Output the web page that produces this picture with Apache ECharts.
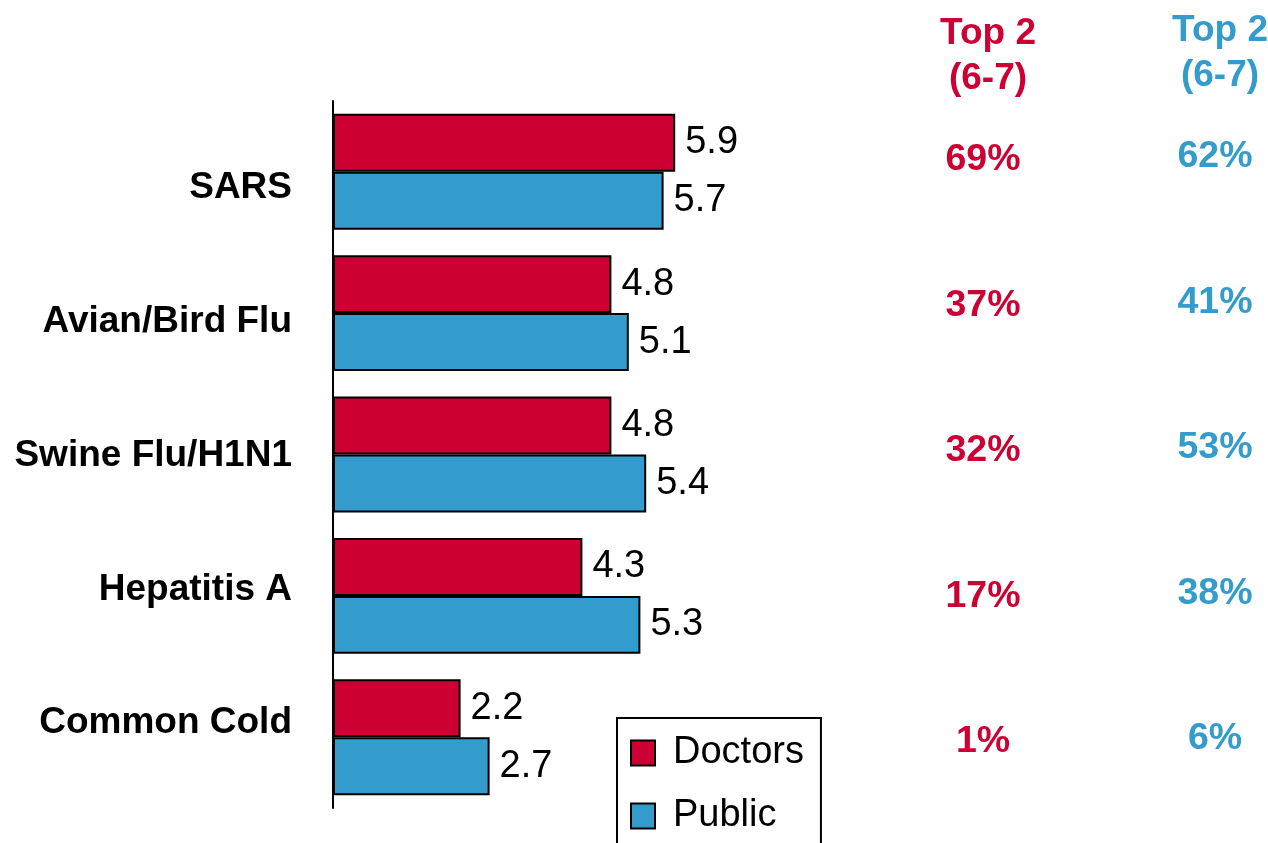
<!DOCTYPE html>
<html>
<head>
<meta charset="utf-8">
<script src="https://cdn.jsdelivr.net/npm/echarts@6/dist/echarts.min.js"></script>
<style>
html,body{margin:0;padding:0;background:#fff;}
#chart{width:1268px;height:843px;}
</style>
</head>
<body>
<div id="chart"></div>
<script>
var categories = ['SARS', 'Avian/Bird Flu', 'Swine Flu/H1N1', 'Hepatitis A', 'Common Cold'];
var doctors = [5.9, 4.8, 4.8, 4.3, 2.2];
var publicVals = [5.7, 5.1, 5.4, 5.3, 2.7];
var top2Doctors = [69, 37, 32, 17, 1];
var top2Public = [62, 41, 53, 38, 6];
var columnHeader = 'Top 2\n(6-7)';

var RED = '#CC0033';
var BLUE = '#339CCC';
var FONT = '"Liberation Sans", Arial, sans-serif';

var chart = echarts.init(document.getElementById('chart'), null, {renderer: 'canvas'});

function pctData(arr, col) {
  return arr.map(function (v, i) { return [col, i, v]; });
}

var option = {
  animation: false,
  backgroundColor: '#ffffff',
  textStyle: {fontFamily: FONT},
  title: [
    {text: columnHeader, left: 983, top: 6, textAlign: 'center',
     textStyle: {color: RED, fontSize: 37, fontWeight: 'bold', lineHeight: 45, fontFamily: FONT, align: 'center'}},
    {text: columnHeader, left: 1215, top: 3, textAlign: 'center',
     textStyle: {color: BLUE, fontSize: 37, fontWeight: 'bold', lineHeight: 45, fontFamily: FONT, align: 'center'}}
  ],
  legend: {
    data: ['Doctors', 'Public'],
    orient: 'vertical',
    left: 617,
    top: 718,
    height: 300,
    padding: [16, 17, 22, 13],
    itemWidth: 24,
    itemHeight: 25,
    itemGap: 25,
    icon: 'rect',
    borderColor: '#000',
    borderWidth: 2,
    selectedMode: false,
    textStyle: {fontSize: 38, color: '#000', fontFamily: FONT, lineHeight: 25, padding: [0, 0, 0, 13]}
  },
  grid: [
    {left: 333, top: 101, width: 406, height: 707},
    {left: 333, top: 121, width: 406, height: 669},
    {left: 983, top: 87, width: 232, height: 727.5}
  ],
  xAxis: [
    {gridIndex: 0, type: 'value', min: 0, max: 7, show: false},
    {gridIndex: 1, type: 'value', min: 0, max: 7, show: false},
    {gridIndex: 2, type: 'value', min: 0, max: 1, show: false}
  ],
  yAxis: [
    {gridIndex: 0, type: 'category', data: categories, inverse: true,
     axisLine: {show: true, lineStyle: {color: '#000', width: 2}},
     axisTick: {show: false}, axisLabel: {show: false}, splitLine: {show: false}},
    {gridIndex: 1, type: 'category', data: categories, inverse: true,
     axisLine: {show: false}, axisTick: {show: false}, splitLine: {show: false},
     axisLabel: {show: true, margin: 41, fontSize: 37, fontWeight: 'bold', color: '#000', fontFamily: FONT}},
    {gridIndex: 2, type: 'category', data: categories, inverse: true, show: false}
  ],
  series: [
    {
      name: 'Doctors', type: 'bar', xAxisIndex: 0, yAxisIndex: 0,
      data: doctors, barGap: '0%', barCategoryGap: '18%',
      itemStyle: {color: RED, borderColor: '#000', borderWidth: 2},
      label: {show: true, position: 'right', distance: 10, fontSize: 38, color: '#000', fontFamily: FONT,
              formatter: function (p) { return p.value.toFixed(1); }},
      silent: true
    },
    {
      name: 'Public', type: 'bar', xAxisIndex: 0, yAxisIndex: 0,
      data: publicVals, barGap: '0%', barCategoryGap: '18%',
      itemStyle: {color: BLUE, borderColor: '#000', borderWidth: 2},
      label: {show: true, position: 'right', distance: 10, fontSize: 38, color: '#000', fontFamily: FONT,
              formatter: function (p) { return p.value.toFixed(1); }},
      silent: true
    },
    {
      name: 'Top2 Doctors', type: 'scatter', xAxisIndex: 2, yAxisIndex: 2,
      data: pctData(top2Doctors, 0), symbolSize: 1,
      itemStyle: {color: 'rgba(0,0,0,0)', opacity: 1},
      label: {show: true, position: 'inside', fontSize: 37.5, fontWeight: 'bold', color: RED, fontFamily: FONT,
              formatter: function (p) { return p.value[2] + '%'; }},
      silent: true
    },
    {
      name: 'Top2 Public', type: 'scatter', xAxisIndex: 2, yAxisIndex: 2,
      data: pctData(top2Public, 1), symbolSize: 1,
      itemStyle: {color: 'rgba(0,0,0,0)', opacity: 1},
      label: {show: true, position: 'inside', offset: [0, -3], fontSize: 37.5, fontWeight: 'bold', color: BLUE, fontFamily: FONT,
              formatter: function (p) { return p.value[2] + '%'; }},
      silent: true
    }
  ]
};
chart.setOption(option);
</script>
</body>
</html>
